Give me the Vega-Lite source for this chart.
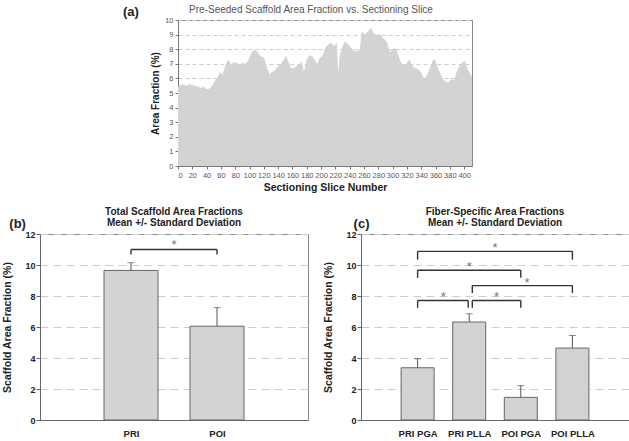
{
  "$schema": "https://vega.github.io/schema/vega-lite/v6.json",
  "padding": {"left": 2, "top": 4, "right": 0, "bottom": 0},
  "background": "white",
  "config": {
    "font": "Liberation Sans",
    "view": {"stroke": "#888", "strokeWidth": 1},
    "axis": {"domainColor": "#777", "tickColor": "#777", "titleColor": "#222", "labelColor": "#222"}
  },
  "datasets": {
    "slices": [
      {"slice": 0, "af": 5.45}, {"slice": 4, "af": 5.55}, {"slice": 8, "af": 5.6}, {"slice": 12, "af": 5.5},
      {"slice": 16, "af": 5.6}, {"slice": 20, "af": 5.55}, {"slice": 24, "af": 5.5}, {"slice": 28, "af": 5.45},
      {"slice": 32, "af": 5.35}, {"slice": 36, "af": 5.45}, {"slice": 40, "af": 5.25}, {"slice": 44, "af": 5.3},
      {"slice": 48, "af": 5.5}, {"slice": 52, "af": 5.85}, {"slice": 56, "af": 6.15}, {"slice": 59, "af": 6.45},
      {"slice": 62, "af": 6.25}, {"slice": 66, "af": 6.85}, {"slice": 70, "af": 7.3}, {"slice": 74, "af": 6.95},
      {"slice": 78, "af": 7.1}, {"slice": 82, "af": 7.05}, {"slice": 86, "af": 6.95}, {"slice": 90, "af": 7.05},
      {"slice": 94, "af": 7.0}, {"slice": 98, "af": 7.2}, {"slice": 102, "af": 7.7}, {"slice": 107, "af": 8.0},
      {"slice": 111, "af": 7.8}, {"slice": 116, "af": 7.5}, {"slice": 120, "af": 7.45}, {"slice": 124, "af": 6.8},
      {"slice": 128, "af": 6.3}, {"slice": 132, "af": 6.45}, {"slice": 136, "af": 6.55}, {"slice": 140, "af": 6.85},
      {"slice": 144, "af": 7.0}, {"slice": 148, "af": 7.3}, {"slice": 151, "af": 7.55}, {"slice": 154, "af": 7.2},
      {"slice": 158, "af": 6.7}, {"slice": 162, "af": 6.7}, {"slice": 166, "af": 6.85}, {"slice": 170, "af": 7.0},
      {"slice": 173, "af": 7.15}, {"slice": 176, "af": 6.45}, {"slice": 180, "af": 7.3}, {"slice": 184, "af": 7.6},
      {"slice": 188, "af": 7.5}, {"slice": 192, "af": 7.2}, {"slice": 195, "af": 7.0}, {"slice": 198, "af": 7.4},
      {"slice": 202, "af": 7.55}, {"slice": 206, "af": 8.1}, {"slice": 210, "af": 8.3}, {"slice": 214, "af": 8.45},
      {"slice": 218, "af": 8.2}, {"slice": 222, "af": 8.45}, {"slice": 224, "af": 6.4}, {"slice": 226, "af": 7.5},
      {"slice": 230, "af": 8.2}, {"slice": 234, "af": 8.55}, {"slice": 238, "af": 8.3}, {"slice": 242, "af": 8.1},
      {"slice": 246, "af": 7.9}, {"slice": 250, "af": 7.85}, {"slice": 254, "af": 8.0}, {"slice": 257, "af": 9.25},
      {"slice": 261, "af": 9.0}, {"slice": 265, "af": 9.2}, {"slice": 270, "af": 9.45}, {"slice": 274, "af": 9.05},
      {"slice": 278, "af": 9.0}, {"slice": 283, "af": 9.0}, {"slice": 287, "af": 8.75}, {"slice": 292, "af": 8.5},
      {"slice": 296, "af": 7.8}, {"slice": 300, "af": 8.0}, {"slice": 303, "af": 8.1}, {"slice": 306, "af": 7.9},
      {"slice": 310, "af": 7.3}, {"slice": 314, "af": 6.9}, {"slice": 318, "af": 6.95}, {"slice": 322, "af": 7.2},
      {"slice": 324, "af": 7.33}, {"slice": 326, "af": 6.95}, {"slice": 330, "af": 6.75}, {"slice": 335, "af": 6.65},
      {"slice": 340, "af": 6.4}, {"slice": 344, "af": 5.96}, {"slice": 348, "af": 6.2}, {"slice": 352, "af": 6.7},
      {"slice": 356, "af": 7.2}, {"slice": 359, "af": 7.33}, {"slice": 363, "af": 6.76}, {"slice": 367, "af": 6.3},
      {"slice": 371, "af": 5.9}, {"slice": 375, "af": 5.75}, {"slice": 379, "af": 5.75}, {"slice": 382, "af": 5.96},
      {"slice": 386, "af": 5.85}, {"slice": 390, "af": 6.5}, {"slice": 394, "af": 6.9}, {"slice": 398, "af": 7.1},
      {"slice": 401, "af": 7.2}, {"slice": 405, "af": 6.65}, {"slice": 411, "af": 6.1}
    ],
    "total": [
      {"group": "PRI", "idx": 1, "mean": 9.65, "upper": 10.15},
      {"group": "POI", "idx": 2, "mean": 6.05, "upper": 7.25}
    ],
    "fiber": [
      {"group": "PRI PGA", "idx": 1, "mean": 3.37, "upper": 3.95},
      {"group": "PRI PLLA", "idx": 2, "mean": 6.32, "upper": 6.85},
      {"group": "POI PGA", "idx": 3, "mean": 1.46, "upper": 2.22},
      {"group": "POI PLLA", "idx": 4, "mean": 4.64, "upper": 5.45}
    ],
    "bracketsB": [
      {"from": 1, "to": 2, "top": 11.0, "foot": 10.67, "mid": 1.5, "starY": 11.5, "mark": "*"}
    ],
    "bracketsC": [
      {"from": 1, "to": 4, "top": 10.88, "foot": 10.35, "mid": 2.5, "starY": 11.3, "mark": "*"},
      {"from": 1, "to": 3, "top": 9.66, "foot": 9.17, "mid": 2.0, "starY": 10.09, "mark": "*"},
      {"from": 2.06, "to": 4, "top": 8.67, "foot": 8.2, "mid": 3.12, "starY": 9.06, "mark": "*"},
      {"from": 1, "to": 1.98, "top": 7.71, "foot": 7.24, "mid": 1.5, "starY": 8.16, "mark": "*"},
      {"from": 2.06, "to": 3, "top": 7.71, "foot": 7.24, "mid": 2.53, "starY": 8.16, "mark": "*"}
    ]
  },
  "spacing": 12,
  "vconcat": [
    {
      "spacing": 0,
      "hconcat": [
        {
          "width": 82, "height": 146,
          "view": {"stroke": null},
          "data": {"values": []},
          "mark": "point",
          "encoding": {}
        },
        {
          "width": 294, "height": 146,
          "title": {"text": "Pre-Seeded Scaffold Area Fraction vs. Sectioning Slice", "fontSize": 10, "fontWeight": "normal", "color": "#555", "dx": -14, "offset": -8.5, "frame": "group"},
          "layer": [
            {
              "data": {"name": "slices"},
              "mark": {"type": "area", "color": "#d3d3d3", "opacity": 1},
              "encoding": {
                "x": {"field": "slice", "type": "quantitative",
                  "scale": {"domain": [0, 411], "nice": false, "zero": false},
                  "axis": {"title": "Sectioning Slice Number", "values": [0,20,40,60,80,100,120,140,160,180,200,220,240,260,280,300,320,340,360,380,400], "tickCount": 100, "format": "d",
                    "labelFontSize": 7.5, "labelColor": "#555", "tickSize": 3, "labelPadding": 2, "labelOverlap": false,
                    "grid": false, "titleFontSize": 10.5, "titleFontWeight": "bold", "titlePadding": 4}},
                "y": {"field": "af", "type": "quantitative",
                  "scale": {"domain": [0, 10], "nice": false},
                  "axis": {"title": "Area Fraction (%)", "values": [0,1,2,3,4,5,6,7,8,9,10], "tickCount": 100, "format": "d", "labelFontSize": 7.5, "labelColor": "#555", "labelOverlap": false,
                    "tickSize": 3, "labelPadding": 2, "grid": true, "gridDash": [4, 3], "gridColor": "#cccccc",
                    "titleFontSize": 10, "titleFontWeight": "bold", "titlePadding": 4}}
              }
            },
            {
              "data": {"values": [{"panel": "(a)"}]},
              "mark": {"type": "text", "fontSize": 13, "fontWeight": "bold", "align": "left", "baseline": "alphabetic", "color": "#222"},
              "encoding": {
                "text": {"field": "panel"},
                "x": {"datum": -77, "type": "quantitative"},
                "y": {"datum": 10.24, "type": "quantitative"}
              }
            }
          ]
        }
      ]
    },
    {
      "spacing": 14,
      "hconcat": [
        {
          "width": 268, "height": 186,
          "title": {"text": ["Total Scaffold Area Fractions", "Mean +/- Standard Deviation"], "fontSize": 10, "fontWeight": "bold", "color": "#222", "lineHeight": 11, "offset": -10, "frame": "group"},
          "layer": [
            {
              "data": {"name": "total"},
              "mark": {"type": "bar", "orient": "vertical", "width": 54, "fill": "#d3d3d3", "stroke": "#666", "strokeWidth": 1},
              "encoding": {
                "x": {"field": "idx", "type": "quantitative",
                  "scale": {"domain": [0, 3], "nice": false, "zero": false},
                  "axis": {"title": null, "values": [1, 2], "tickCount": 100, "labelExpr": "datum.value == 1 ? 'PRI' : 'POI'", "labelFontSize": 9.5, "labelFontWeight": "bold",
                    "ticks": false, "labelPadding": 8, "grid": false, "domainColor": "#666", "labelOverlap": false}},
                "y": {"field": "mean", "type": "quantitative",
                  "scale": {"domain": [0, 12], "nice": false},
                  "axis": {"title": "Scaffold Area Fraction (%)", "values": [0, 2, 4, 6, 8, 10, 12], "tickCount": 100, "format": "d", "labelFontSize": 9, "labelFontWeight": "bold", "tickSize": 4, "labelPadding": 1, "labelOverlap": false,
                    "grid": true, "gridDash": [8, 5], "gridColor": "#cccccc", "domainColor": "#666", "tickColor": "#666",
                    "titleFontSize": 10.5, "titleFontWeight": "bold", "titlePadding": 12}}
              }
            },
            {
              "data": {"name": "total"},
              "mark": {"type": "rule", "color": "#555", "strokeWidth": 1},
              "encoding": {
                "x": {"field": "idx", "type": "quantitative"},
                "y": {"field": "mean", "type": "quantitative"},
                "y2": {"field": "upper"}
              }
            },
            {
              "data": {"name": "total"},
              "mark": {"type": "tick", "orient": "horizontal", "size": 7, "thickness": 1, "color": "#555"},
              "encoding": {
                "x": {"field": "idx", "type": "quantitative"},
                "y": {"field": "upper", "type": "quantitative"}
              }
            },
            {
              "data": {"name": "bracketsB"},
              "mark": {"type": "rule", "color": "#333", "strokeWidth": 1.4},
              "encoding": {
                "x": {"field": "from", "type": "quantitative"},
                "x2": {"field": "to"},
                "y": {"field": "top", "type": "quantitative"}
              }
            },
            {
              "data": {"name": "bracketsB"},
              "mark": {"type": "rule", "color": "#333", "strokeWidth": 1.4},
              "encoding": {
                "x": {"field": "from", "type": "quantitative"},
                "y": {"field": "foot", "type": "quantitative"},
                "y2": {"field": "top"}
              }
            },
            {
              "data": {"name": "bracketsB"},
              "mark": {"type": "rule", "color": "#333", "strokeWidth": 1.4},
              "encoding": {
                "x": {"field": "to", "type": "quantitative"},
                "y": {"field": "foot", "type": "quantitative"},
                "y2": {"field": "top"}
              }
            },
            {
              "data": {"name": "bracketsB"},
              "mark": {"type": "text", "fontSize": 13, "color": "#777", "baseline": "middle", "dy": 3},
              "encoding": {
                "x": {"field": "mid", "type": "quantitative"},
                "y": {"field": "starY", "type": "quantitative"},
                "text": {"field": "mark"}
              }
            },
            {
              "data": {"values": [{"panel": "(b)"}]},
              "mark": {"type": "text", "fontSize": 13, "fontWeight": "bold", "align": "left", "baseline": "alphabetic", "color": "#222"},
              "encoding": {
                "text": {"field": "panel"},
                "x": {"datum": -0.415, "type": "quantitative"},
                "y": {"datum": 12.4, "type": "quantitative"}
              }
            }
          ]
        },
        {
          "width": 268, "height": 186,
          "title": {"text": ["Fiber-Specific Area Fractions", "Mean +/- Standard Deviation"], "fontSize": 10, "fontWeight": "bold", "color": "#222", "lineHeight": 11, "offset": -10, "frame": "group"},
          "layer": [
            {
              "data": {"name": "fiber"},
              "mark": {"type": "bar", "orient": "vertical", "width": 33, "fill": "#d3d3d3", "stroke": "#666", "strokeWidth": 1},
              "encoding": {
                "x": {"field": "idx", "type": "quantitative",
                  "scale": {"domain": [0, 5], "nice": false, "zero": false},
                  "axis": {"title": null, "values": [1, 2, 3, 4], "tickCount": 100, "labelExpr": "['', 'PRI PGA', 'PRI PLLA', 'POI PGA', 'POI PLLA'][datum.value]", "labelFontSize": 9.5, "labelFontWeight": "bold",
                    "ticks": false, "labelPadding": 8, "grid": false, "domainColor": "#666", "labelOverlap": false}},
                "y": {"field": "mean", "type": "quantitative",
                  "scale": {"domain": [0, 12], "nice": false},
                  "axis": {"title": "Scaffold Area Fraction (%)", "values": [0, 2, 4, 6, 8, 10, 12], "tickCount": 100, "format": "d", "labelFontSize": 9, "labelFontWeight": "bold", "tickSize": 4, "labelPadding": 1, "labelOverlap": false,
                    "grid": true, "gridDash": [8, 5], "gridColor": "#cccccc", "domainColor": "#666", "tickColor": "#666",
                    "titleFontSize": 10.5, "titleFontWeight": "bold", "titlePadding": 12}}
              }
            },
            {
              "data": {"name": "fiber"},
              "mark": {"type": "rule", "color": "#555", "strokeWidth": 1},
              "encoding": {
                "x": {"field": "idx", "type": "quantitative"},
                "y": {"field": "mean", "type": "quantitative"},
                "y2": {"field": "upper"}
              }
            },
            {
              "data": {"name": "fiber"},
              "mark": {"type": "tick", "orient": "horizontal", "size": 7, "thickness": 1, "color": "#555"},
              "encoding": {
                "x": {"field": "idx", "type": "quantitative"},
                "y": {"field": "upper", "type": "quantitative"}
              }
            },
            {
              "data": {"name": "bracketsC"},
              "mark": {"type": "rule", "color": "#333", "strokeWidth": 1.4},
              "encoding": {
                "x": {"field": "from", "type": "quantitative"},
                "x2": {"field": "to"},
                "y": {"field": "top", "type": "quantitative"}
              }
            },
            {
              "data": {"name": "bracketsC"},
              "mark": {"type": "rule", "color": "#333", "strokeWidth": 1.4},
              "encoding": {
                "x": {"field": "from", "type": "quantitative"},
                "y": {"field": "foot", "type": "quantitative"},
                "y2": {"field": "top"}
              }
            },
            {
              "data": {"name": "bracketsC"},
              "mark": {"type": "rule", "color": "#333", "strokeWidth": 1.4},
              "encoding": {
                "x": {"field": "to", "type": "quantitative"},
                "y": {"field": "foot", "type": "quantitative"},
                "y2": {"field": "top"}
              }
            },
            {
              "data": {"name": "bracketsC"},
              "mark": {"type": "text", "fontSize": 13, "color": "#777", "baseline": "middle", "dy": 3},
              "encoding": {
                "x": {"field": "mid", "type": "quantitative"},
                "y": {"field": "starY", "type": "quantitative"},
                "text": {"field": "mark"}
              }
            },
            {
              "data": {"values": [{"panel": "(c)"}]},
              "mark": {"type": "text", "fontSize": 13, "fontWeight": "bold", "align": "left", "baseline": "alphabetic", "color": "#222"},
              "encoding": {
                "text": {"field": "panel"},
                "x": {"datum": -0.24, "type": "quantitative"},
                "y": {"datum": 12.4, "type": "quantitative"}
              }
            }
          ]
        }
      ]
    }
  ]
}
